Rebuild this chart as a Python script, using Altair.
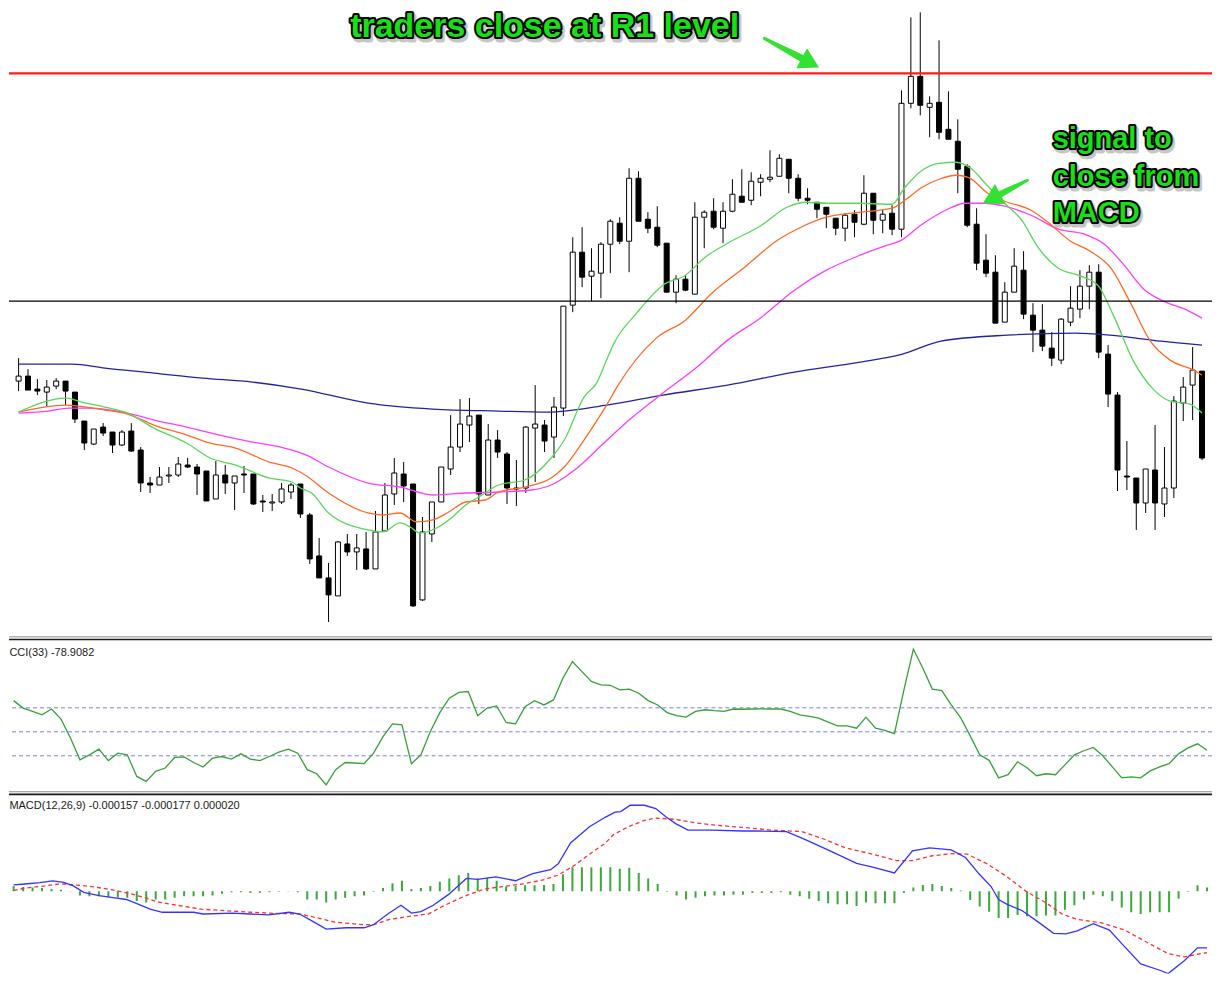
import altair as alt
import pandas as pd

# ---------------- candles (price in points) ----------------
OPEN = [269, 274, 261, 258, 264, 269, 258, 229, 206, 223,
        218, 205, 219, 200, 167, 165, 174, 175, 185, 183,
        179, 151, 175, 167, 176, 176, 149, 147, 148, 158,
        166, 135, 94, 72, 54, 106, 98, 101, 81, 119,
        156, 176, 166, 50, 116, 148, 181, 203, 225, 235,
        155, 210, 196, 162, 162, 222, 225, 213, 242, 345,
        398, 374, 377, 406, 427, 409, 472, 431, 423, 407,
        358, 371, 356, 433, 439, 422, 439, 454, 450, 468,
        471, 474, 491, 472, 452, 448, 443, 432, 422, 436,
        426, 457, 430, 437, 421, 547, 574, 543, 548, 521,
        509, 484, 426, 390, 378, 328, 358, 380, 335, 320,
        302, 290, 328, 341, 364, 378, 296, 255, 174, 172,
        147, 180, 146, 162, 247, 265, 279]
HIGH = [292, 281, 271, 270, 272, 269, 258, 229, 221, 227,
        218, 220, 227, 203, 173, 183, 183, 193, 192, 186,
        179, 189, 185, 174, 184, 176, 155, 156, 167, 167,
        166, 137, 112, 87, 109, 116, 116, 118, 139, 167,
        192, 188, 166, 133, 148, 183, 235, 251, 252, 235,
        226, 220, 198, 190, 224, 265, 230, 253, 344, 413,
        423, 402, 408, 431, 433, 482, 479, 438, 444, 407,
        375, 375, 448, 440, 452, 448, 471, 481, 478, 476,
        500, 496, 491, 476, 462, 448, 443, 432, 437, 440,
        475, 457, 441, 445, 560, 633, 638, 554, 610, 559,
        531, 486, 442, 416, 395, 368, 402, 399, 347, 346,
        318, 332, 364, 380, 385, 386, 305, 258, 209, 172,
        181, 225, 203, 254, 273, 303, 279]
LOW = [259, 260, 255, 244, 261, 245, 227, 200, 205, 214,
       197, 204, 198, 158, 157, 165, 167, 173, 182, 155,
       149, 151, 156, 140, 157, 145, 138, 139, 146, 151,
       132, 86, 72, 28, 54, 94, 80, 80, 81, 119,
       145, 148, 43, 49, 108, 148, 175, 198, 208, 146,
       155, 192, 146, 144, 157, 168, 198, 192, 234, 338,
       363, 349, 352, 377, 406, 378, 429, 417, 403, 358,
       347, 359, 356, 402, 421, 407, 438, 448, 445, 454,
       468, 474, 457, 449, 446, 432, 422, 415, 409, 413,
       425, 416, 417, 415, 413, 542, 535, 513, 511, 511,
       457, 423, 380, 373, 327, 328, 358, 331, 298, 299,
       284, 286, 324, 332, 341, 292, 243, 159, 160, 120,
       137, 120, 133, 152, 229, 230, 190]
CLOSE = [274, 260, 259, 263, 269, 259, 231, 207, 221, 217,
         205, 218, 199, 167, 165, 173, 175, 186, 183, 176,
         149, 175, 167, 174, 175, 146, 148, 148, 161, 165,
         136, 91, 72, 55, 108, 98, 102, 81, 118, 155,
         177, 164, 44, 118, 148, 183, 203, 226, 234, 156,
         210, 198, 162, 161, 223, 226, 209, 243, 344, 398,
         373, 379, 406, 429, 409, 472, 429, 422, 405, 358,
         371, 360, 433, 438, 423, 439, 456, 448, 469, 472,
         473, 492, 472, 452, 450, 441, 436, 422, 435, 428,
         457, 430, 436, 421, 547, 574, 545, 547, 518, 511,
         481, 425, 387, 377, 327, 358, 384, 336, 320, 304,
         292, 331, 342, 364, 378, 298, 256, 180, 173, 147,
         181, 147, 162, 249, 263, 280, 192]

R1_LEVEL = 577
PIVOT_LEVEL = 349

# ---------------- moving averages (bar index, value) ----------------
GREEN_IDX = [0, 5.1, 6.7, 9.2, 11.6, 14.4, 17.9, 20.4, 23.1, 26.7, 29.1, 30, 31.2, 33,
             37.2, 38.8, 40.6, 41.7, 42.7, 44.5, 46.2, 47.6, 49, 51.1, 53.9, 56.7, 58.1,
             60.2, 61.6, 62.6, 63.4, 65.8, 68.6, 71, 73.1, 75.5, 79.1, 81.8, 83.9, 86,
             89.6, 93, 94.3, 96.2, 98, 99.8, 101.5, 103.2, 105, 106.8, 108.6, 110.7,
             112.8, 114.9, 116.6, 118.7, 120.8, 122.6, 124.7, 126]
GREEN_VAL = [238, 252, 248, 243, 237, 222, 207, 192, 185, 172, 168, 162, 157, 137,
             120, 118, 127, 123, 117, 122, 133, 145, 153, 165, 170, 192, 210,
             253, 268, 290, 307, 337, 365, 375, 393, 407, 425, 443, 448, 447,
             447, 446, 462, 480, 487, 488, 481, 464, 447, 430, 402, 382,
             375, 365, 334, 289, 261, 249, 246, 237]
ORANGE_IDX = [0, 5, 9.2, 11.6, 14.4, 17.9, 20.4, 23.1, 26.7, 29.1, 30.5, 33, 37.2, 38.8,
              40.6, 42.4, 44.1, 45.8, 47.6, 49.7, 51.1, 53.9, 56.7, 58.1, 60.2, 61.6,
              62.6, 63.7, 67.9, 71, 73.8, 77.3, 80.8, 83.3, 86, 89.6, 93, 94.5, 96.2,
              98, 99.8, 101.1, 103.2, 105, 107.8, 109.6, 112, 114.1, 116.3, 118.4,
              120.5, 122.6, 125.1, 126]
ORANGE_VAL = [238, 245, 240, 236, 225, 215, 207, 202, 188, 182, 175, 157, 137, 135,
              137, 128, 130, 138, 148, 150, 158, 163, 172, 183, 210, 230,
              245, 263, 312, 330, 357, 383, 410, 423, 433, 438, 442, 451, 463,
              471, 475, 473, 457, 449, 440, 428, 409, 399, 382, 347,
              309, 290, 280, 275]
MAGENTA_IDX = [0, 3.2, 5.3, 7.4, 11.6, 14.4, 17.9, 21.4, 24.9, 28.3, 30.65, 33, 37.2,
               40.6, 44.1, 47.6, 51.1, 54.6, 56.7, 59.2, 62.1, 65, 68.6, 72.1, 75.5,
               79.1, 82.6, 86, 89.6, 92.5, 93.8, 96.2, 98.7, 100.8, 102.9, 105, 107.8,
               110.7, 113.5, 115.6, 117.7, 119.8, 121.9, 124.4, 126]
MAGENTA_VAL = [237, 239, 242, 242, 237, 230, 223, 215, 208, 202, 195, 183, 167,
               163, 155, 157, 158, 160, 165, 180, 205, 230, 257, 282, 310,
               333, 360, 380, 395, 405, 409, 426, 440, 447, 447, 444, 435,
               421, 416, 406, 385, 361, 349, 340, 332]
BLUE_IDX = [0, 5.7, 9.2, 14.4, 19.6, 24.9, 30.1, 37.2, 44.1, 51.1, 56.3, 62.6, 68.6,
            75.5, 82.6, 89.6, 94.1, 98.2, 105.3, 112.5, 116.2, 121.6, 126]
BLUE_VAL = [286, 286, 282, 277, 272, 268, 261, 247, 241, 239, 238, 245, 255,
            265, 278, 288, 296, 309, 315, 317, 315, 309, 305]

# ---------------- CCI(33) ----------------
CCI = [130, 99, 85, 71, 95, 53, -26, -117, -96, -72,
       -120, -89, -96, -186, -207, -165, -151, -107, -105, -128,
       -147, -110, -103, -114, -92, -114, -120, -103, -85, -72,
       -89, -158, -175, -221, -158, -128, -130, -133, -89, -20,
       33, 29, -133, -96, 1, 80, 140, 164, 168, 67,
       99, 108, 39, 33, 105, 130, 112, 133, 224, 293,
       251, 210, 196, 194, 175, 178, 161, 130, 112, 80,
       67, 61, 85, 92, 88, 85, 95, 94, 95, 96,
       95, 95, 85, 71, 64, 57, 40, 25, 25, 15,
       61, 15, 6, -8, 175, 345, 265, 178, 172, 112,
       58, -17, -96, -119, -192, -179, -125, -150, -183, -175,
       -179, -138, -96, -79, -65, -100, -146, -192, -188, -192,
       -163, -146, -133, -92, -67, -50, -77]
CCI_LEVELS = [100, 0, -100]

# ---------------- MACD(12,26,9) (x 1e-6) ----------------
MACD_HIST = [28, 22, 20, 17, 12, 8, 2, -22, -25, -25,
             -30, -30, -33, -50, -58, -42, -42, -33, -25, -25,
             -25, -22, -12, -5, -5, -8, -8, -5, -2, -1,
             -5, -42, -42, -58, -42, -33, -25, -22, -2, 17,
             42, 55, 12, 17, 28, 50, 67, 83, 95, 67,
             70, 55, 25, 28, 32, 32, 33, 38, 88, 125,
             125, 125, 125, 125, 117, 122, 95, 67, 38, -2,
             -22, -42, -33, -25, -22, -22, -17, -17, -8, -8,
             -8, -5, -17, -25, -38, -50, -62, -67, -67, -75,
             -58, -62, -62, -62, -8, 20, 33, 38, 28, 17,
             5, -45, -78, -105, -138, -138, -122, -128, -128, -125,
             -125, -95, -72, -42, -17, -25, -50, -83, -108, -117,
             -108, -108, -108, -38, -2, 32, 20]
MACD_IDX = [0, 1.2, 2.8, 4.1, 5.3, 6.3, 7.4, 9.0, 10.7, 11.9, 13.2, 14.4, 15.7, 19.0,
            20.0, 23.1, 25.0, 26.9, 29.1, 30.2, 31.4, 33.0, 35.1, 37.0, 38.0, 39.5,
            40.9, 42.0, 43.0, 44.3, 45.9, 47.8, 49.0, 50.9, 53.0, 54.8, 56.7, 57.5,
            58.8, 60.8, 62.5, 63.5, 64.1, 65.1, 66.6, 67.8, 68.9, 69.9, 71.2, 73.7,
            77.0, 78.6, 81.6, 83.6, 86.6, 89.0, 90.7, 93.0, 94.9, 96.7, 99.0, 100.5,
            101.9, 103.2, 104.0, 104.9, 106.5, 108.2, 109.8, 111.1, 112.3, 114.0,
            115.7, 117.1, 119.0, 121.1, 121.9, 123.6, 125.0, 126.0]
MACD_VAL = [34, 38, 45, 54, 47, 28, -5, -22, -34, -42, -67, -92, -108, -108,
            -117, -112, -117, -122, -108, -117, -150, -195, -188, -188, -172, -117,
            -72, -112, -105, -72, -17, 67, 62, 75, 55, 92, 112, 142,
            250, 334, 384, 409, 412, 445, 445, 428, 384, 350, 317, 317,
            312, 312, 309, 267, 200, 145, 125, 95, 209, 225, 214, 175,
            92, 25, -42, -67, -100, -159, -217, -220, -204, -167,
            -200, -275, -375, -409, -425, -359, -292, -292]
SIGNAL_IDX = [0, 1.2, 2.8, 4.9, 6.3, 8.2, 10.3, 12.3, 14.0, 15.2, 17.3, 19.8, 22.3,
              25.2, 27.7, 30.2, 31.8, 33.9, 36.8, 38.0, 39.7, 41.8, 43.8, 45.5, 47.6,
              49.7, 51.7, 53.8, 55.9, 57.5, 59.2, 60.8, 62.5, 63.3, 64.9, 66.6, 67.8,
              69.9, 72.0, 74.1, 77.4, 79.9, 83.2, 85.3, 87.8, 90.7, 93.2, 94.9, 97.0,
              99.0, 100.7, 102.8, 104.9, 106.9, 109.0, 110.7, 112.3, 114.8, 117.3,
              119.8, 121.9, 123.6, 125.0, 126.0]
SIGNAL_VAL = [5, 17, 25, 39, 34, 25, 9, -12, -34, -55, -72, -92, -100,
              -108, -114, -117, -134, -159, -172, -172, -145, -129, -117, -72, -25,
              12, 25, 39, 59, 84, 134, 192, 250, 292, 334, 367, 379,
              372, 354, 342, 329, 317, 309, 275, 225, 192, 159, 159, 184,
              195, 192, 142, 75, 0, -59, -117, -145, -162, -200,
              -267, -322, -339, -325, -317]

# ---------------- annotations ----------------
NOTE_TEXT = ["traders close at R1 level", "signal to", "close from", "MACD"]
NOTE_IDX = [35.3, 110.1, 110.1, 110.1]
NOTE_VAL = [613, 502, 464, 428]
NOTE_SIZE = [34, 29, 29, 29]
ARROW_TAIL = [(79.4, 612), (107.4, 470)]
ARROW_HEAD = [(84.3, 587.5), (103.6, 451.5)]
ARROW_ANGLE = [118, 242]
CCI_LABEL = "CCI(33) -78.9082"
MACD_LABEL = "MACD(12,26,9) -0.000157 -0.000177 0.000020"

# ---------------- layout ----------------
W = 1204
H_PRICE, H_CCI, H_MACD = 628, 155, 183
X_DOMAIN = [-0.49, 126.53]
PRICE_DOMAIN = [14, 642]
CCI_DOMAIN = [-245.8, 400]
MACD_DOMAIN = [-425, 520]

xs = alt.Scale(domain=X_DOMAIN, nice=False, zero=False)
ps = alt.Scale(domain=PRICE_DOMAIN, nice=False, zero=False)
cs = alt.Scale(domain=CCI_DOMAIN, nice=False, zero=False)
ms = alt.Scale(domain=MACD_DOMAIN, nice=False, zero=False)


def X(field):
    return alt.X(field, type="quantitative", scale=xs, axis=None)


n = len(OPEN)
idx = list(range(n))
candles = pd.DataFrame({"i": idx, "open": OPEN, "high": HIGH, "low": LOW, "close": CLOSE})
candles["dir"] = ["up" if c > o else "down" for o, c in zip(OPEN, CLOSE)]

wicks = alt.Chart(candles).mark_rule(color="black", strokeWidth=1, clip=True).encode(
    x=X("i"), y=alt.Y("low:Q", scale=ps, axis=None), y2="high:Q")
bodies = alt.Chart(candles).mark_bar(size=5, stroke="black", strokeWidth=1, clip=True).encode(
    x=X("i"), y=alt.Y("open:Q", scale=ps, axis=None), y2="close:Q",
    fill=alt.Fill("dir:N", scale=alt.Scale(domain=["up", "down"], range=["white", "black"]), legend=None))

ma_rows = []
for name, ix, vals in [("blue", BLUE_IDX, BLUE_VAL), ("magenta", MAGENTA_IDX, MAGENTA_VAL),
                       ("orange", ORANGE_IDX, ORANGE_VAL), ("green", GREEN_IDX, GREEN_VAL)]:
    for a, b in zip(ix, vals):
        ma_rows.append({"i": a, "v": b, "s": name})
ma = pd.DataFrame(ma_rows)
ma_lines = alt.Chart(ma).mark_line(strokeWidth=1.3, interpolate="monotone", clip=True).encode(
    x=X("i"), y=alt.Y("v:Q", scale=ps, axis=None),
    color=alt.Color("s:N", scale=alt.Scale(domain=["blue", "magenta", "orange", "green"],
                                           range=["#23239f", "#ff3cff", "#ff6a26", "#5cd65c"]), legend=None),
    detail="s:N")

levels = pd.DataFrame({"lvl": [R1_LEVEL, PIVOT_LEVEL], "kind": ["r1", "pivot"]})
r1_line = alt.Chart(levels[levels.kind == "r1"]).mark_rule(color="#ff1a1a", strokeWidth=2.2, clip=True).encode(
    y=alt.Y("lvl:Q", scale=ps, axis=None))
pv_line = alt.Chart(levels[levels.kind == "pivot"]).mark_rule(color="black", strokeWidth=1.2, clip=True).encode(
    y=alt.Y("lvl:Q", scale=ps, axis=None))

# arrows
arrow_rows = []
for k, ((tx, ty), (hx, hy)) in enumerate(zip(ARROW_TAIL, ARROW_HEAD)):
    arrow_rows.append({"a": k, "o": 0, "i": tx, "p": ty, "w": 3})
    arrow_rows.append({"a": k, "o": 1, "i": hx, "p": hy, "w": 8})
arrows = pd.DataFrame(arrow_rows)
shafts = alt.Chart(arrows).mark_trail(color="#35e035", clip=True).encode(
    x=X("i"), y=alt.Y("p:Q", scale=ps, axis=None), size=alt.Size("w:Q", scale=None, legend=None),
    detail="a:N", order="o:Q")
heads = alt.Chart(pd.DataFrame({"i": [h[0] for h in ARROW_HEAD], "p": [h[1] for h in ARROW_HEAD],
                                "ang": ARROW_ANGLE})).mark_point(
    shape="triangle-up", filled=True, size=520, color="#35e035", opacity=1, clip=True).encode(
    x=X("i"), y=alt.Y("p:Q", scale=ps, axis=None), angle=alt.Angle("ang:Q", scale=None))

notes = pd.DataFrame({"i": NOTE_IDX, "p": NOTE_VAL, "t": NOTE_TEXT, "fs": NOTE_SIZE})


def note_layer(**kw):
    return alt.Chart(notes).mark_text(
        align="left", baseline="alphabetic", font="Liberation Sans", fontWeight="bold",
        strokeJoin="round", **kw).encode(
        x=X("i"), y=alt.Y("p:Q", scale=ps, axis=None), text="t:N",
        size=alt.Size("fs:Q", scale=None, legend=None))


note_shadow = note_layer(fill="#000000", stroke="#000000", strokeWidth=5, opacity=0.22, dx=2, dy=3)
note_outline = note_layer(fill="#000000", stroke="#000000", strokeWidth=4.2)
note_fill = note_layer(fill="#16e016")

price = alt.layer(wicks, bodies, ma_lines, r1_line, pv_line, shafts, heads,
                  note_shadow, note_outline, note_fill).properties(width=W, height=H_PRICE)

# ---------------- CCI panel ----------------
sep = pd.DataFrame({"k": [0]})
sep_grey = alt.Chart(sep).mark_rule(color="#8c8c8c", strokeWidth=1).encode(y=alt.value(1))
sep_dark = alt.Chart(sep).mark_rule(color="#1a1a1a", strokeWidth=1.6).encode(y=alt.value(3.6))

cci_df = pd.DataFrame({"i": idx, "cci": CCI})
cci_levels = alt.Chart(pd.DataFrame({"lvl": CCI_LEVELS})).mark_rule(
    color="#7d7df2", strokeDash=[4, 3], strokeWidth=1).encode(y=alt.Y("lvl:Q", scale=cs, axis=None))
cci_line = alt.Chart(cci_df).mark_line(color="#38a038", strokeWidth=1.3, clip=True).encode(
    x=X("i"), y=alt.Y("cci:Q", scale=cs, axis=None))
cci_label = alt.Chart(pd.DataFrame({"i": [-0.45], "v": [316.7], "t": [CCI_LABEL]})).mark_text(
    align="left", baseline="alphabetic", font="Liberation Sans", fontSize=11, color="#1a1a1a").encode(
    x=X("i"), y=alt.Y("v:Q", scale=cs, axis=None), text="t:N")
cci = alt.layer(sep_grey, sep_dark, cci_levels, cci_line, cci_label).properties(width=W, height=H_CCI)

# ---------------- MACD panel ----------------
hist_df = pd.DataFrame({"i": idx, "h": MACD_HIST, "z": [0] * n})
hist = alt.Chart(hist_df).mark_rule(color="#3aa83a", strokeWidth=2, clip=True).encode(
    x=X("i"), y=alt.Y("h:Q", scale=ms, axis=None), y2="z:Q")
macd_df = pd.DataFrame({"i": MACD_IDX, "v": MACD_VAL})
sig_df = pd.DataFrame({"i": SIGNAL_IDX, "v": SIGNAL_VAL})
macd_line = alt.Chart(macd_df).mark_line(color="#3333ff", strokeWidth=1.3, clip=True).encode(
    x=X("i"), y=alt.Y("v:Q", scale=ms, axis=None))
sig_line = alt.Chart(sig_df).mark_line(color="#ff3030", strokeWidth=1.3, strokeDash=[4, 3], clip=True).encode(
    x=X("i"), y=alt.Y("v:Q", scale=ms, axis=None))
macd_label = alt.Chart(pd.DataFrame({"i": [-0.45], "v": [425], "t": [MACD_LABEL]})).mark_text(
    align="left", baseline="alphabetic", font="Liberation Sans", fontSize=11, color="#1a1a1a").encode(
    x=X("i"), y=alt.Y("v:Q", scale=ms, axis=None), text="t:N")
macd = alt.layer(sep_grey, sep_dark, hist, sig_line, macd_line, macd_label).properties(width=W, height=H_MACD)

chart = alt.vconcat(price, cci, macd, spacing=0).properties(
    padding={"left": 0, "top": 0, "right": 0, "bottom": 0}, background="white"
).configure_view(stroke=None)

chart.save("out.html", embed_options={"renderer": "svg", "actions": False})
